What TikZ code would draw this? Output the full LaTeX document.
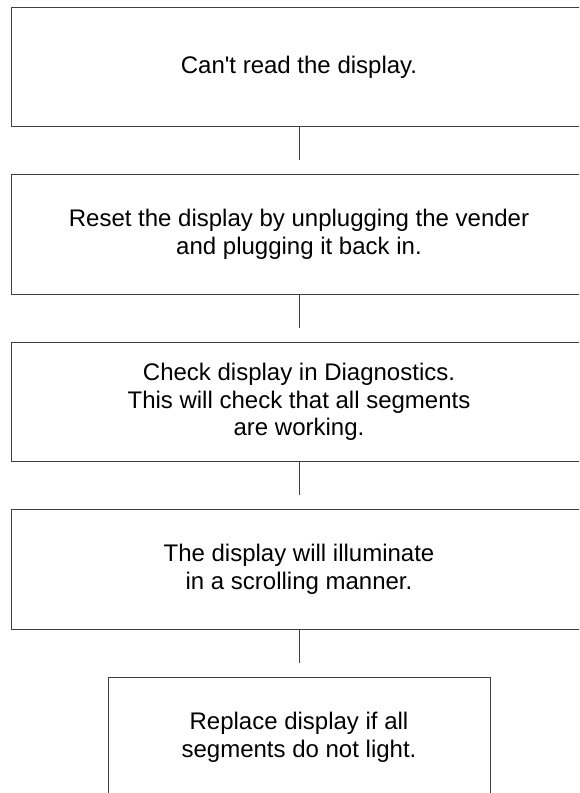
\documentclass[tikz,border=0pt]{standalone}
\usepackage{fontspec}
\setmainfont{Liberation Sans}[Ligatures=TeXOff]
\definecolor{linegray}{HTML}{404040}
\tikzset{
  stepbox/.style={draw=linegray, line width=1pt, minimum width=576pt, minimum height=119.3pt,
    align=center, inner sep=0pt, font=\fontsize{24}{27.6}\selectfont},
  conn/.style={draw=linegray, line width=1pt}
}
\begin{document}
\begin{tikzpicture}[x=1pt,y=-1pt]
\useasboundingbox (0,0) rectangle (579,793);
\clip (0,0) rectangle (579,793);
\node[stepbox] (b1) at (299,67) {Can't read the display.};
\node[stepbox] (b2) at (299,234.5) {Reset the display by unplugging the vender\\and plugging it back in.};
\node[stepbox] (b3) at (299,402) {Check display in Diagnostics.\\This will check that all segments\\are working.};
\node[stepbox] (b4) at (299,569.5) {The display will illuminate\\in a scrolling manner.};
\node[stepbox, minimum width=382pt] (b5) at (299,737) {Replace display if all\\segments do not light.};
\coordinate (e1) at (299,160.3);
\coordinate (e2) at (299,327.8);
\coordinate (e3) at (299,495.3);
\coordinate (e4) at (299,662.8);
\draw[conn] (b1.south) -- (e1);
\draw[conn] (b2.south) -- (e2);
\draw[conn] (b3.south) -- (e3);
\draw[conn] (b4.south) -- (e4);
\end{tikzpicture}
\end{document}
